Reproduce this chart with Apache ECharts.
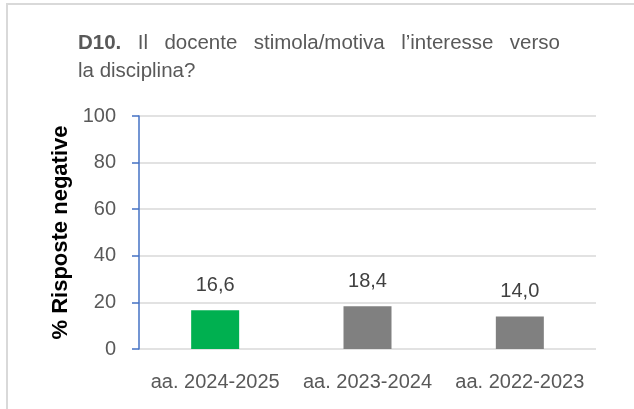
<!DOCTYPE html>
<html>
<head>
<meta charset="utf-8">
<script src="https://cdn.jsdelivr.net/npm/echarts@6/dist/echarts.min.js"></script>
<style>
  html, body { margin: 0; padding: 0; background: #fff; }
  #chart { width: 634px; height: 409px; }
</style>
</head>
<body>
<div id="chart"></div>
<script>
	// chart data
	var categories = ['aa. 2024-2025', 'aa. 2023-2024', 'aa. 2022-2023'];
	var values = [16.6, 18.4, 14.0];
	var barColors = ['#00B050', '#808080', '#808080'];
	var yTicks = [0, 20, 40, 60, 80, 100];
	var titleWords = ['D10.', 'Il', 'docente', 'stimola/motiva', 'l\u2019interesse', 'verso'];
	var titleLine2 = 'la disciplina?';

	var font = '"Liberation Sans", Arial, sans-serif';
	var titleSize = 20.5;
	var chart = echarts.init(document.getElementById('chart'));

	// the first title line is justified, so work out the gap between words
	var ctx = document.createElement('canvas').getContext('2d');
	var used = 0;
	titleWords.forEach(function (w, i) {
		ctx.font = (i === 0 ? 'bold ' : 'normal ') + titleSize + 'px ' + font;
		used += ctx.measureText(w).width;
	});
	var gap = Math.max(5, (482 - used) / (titleWords.length - 1));
	var titleText = '{b|' + titleWords[0] + '}';
	for (var i = 1; i < titleWords.length; i++) {
		titleText += '{sp|}{n|' + titleWords[i] + '}';
	}
	titleText += '\n{n|' + titleLine2 + '}';

	var seriesData = values.map(function (v, i) {
		return { value: v, itemStyle: { color: barColors[i] } };
	});

	chart.setOption({
		animation: false,
		graphic: [{
			type: 'rect',
			shape: { x: 7, y: 4, width: 700, height: 500 },
			style: { fill: 'none', stroke: '#d9d9d9', lineWidth: 2 }
		}],
		title: {
			left: 73,
			top: 24,
			text: titleText,
			textStyle: {
				fontFamily: font,
				fontSize: titleSize,
				color: '#595959',
				lineHeight: 28,
				rich: {
					b: { fontFamily: font, fontSize: titleSize, fontWeight: 'bold', color: '#595959', lineHeight: 28 },
					n: { fontFamily: font, fontSize: titleSize, fontWeight: 'normal', color: '#595959', lineHeight: 28 },
					sp: { width: gap, lineHeight: 28 }
				}
			}
		},
		grid: { left: 139, right: 38, top: 116, bottom: 60 },
		xAxis: {
			type: 'category',
			data: categories,
			axisLine: { show: false },
			axisTick: { show: false },
			axisLabel: { interval: 0, fontFamily: font, fontSize: 20, color: '#595959', margin: 23 }
		},
		yAxis: {
			type: 'value',
			min: yTicks[0],
			max: yTicks[yTicks.length - 1],
			interval: 20,
			name: '% Risposte negative',
			nameLocation: 'middle',
			nameGap: 62,
			nameTextStyle: { fontFamily: font, fontSize: 22, fontWeight: 'bold', color: '#000' },
			axisLine: { show: true, lineStyle: { color: '#4472C4', width: 1.5 } },
			axisTick: { show: true, length: 7, lineStyle: { color: '#4472C4', width: 1.5 } },
			axisLabel: { fontFamily: font, fontSize: 20, color: '#595959', margin: 23 },
			splitLine: { lineStyle: { color: '#d9d9d9', width: 1.5 } }
		},
		series: [{
			type: 'bar',
			data: seriesData,
			barWidth: 48,
			label: {
				show: true,
				position: 'top',
				distance: 15,
				fontFamily: font,
				fontSize: 20,
				color: '#404040',
				formatter: function (p) { return p.value.toFixed(1).replace('.', ','); }
			}
		}]
	});
</script>
</body>
</html>
